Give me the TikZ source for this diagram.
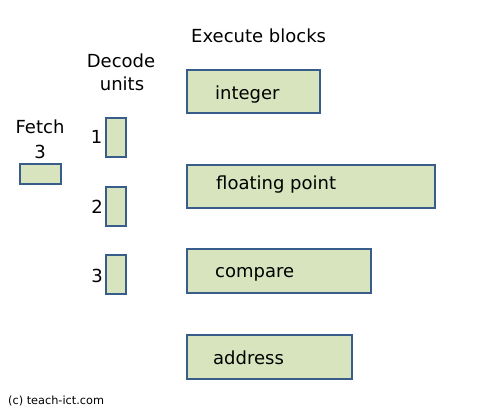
\documentclass[tikz,border=0pt]{standalone}
\usepackage{fontspec}
\setmainfont{DejaVu Sans}
\definecolor{boxfill}{HTML}{D7E4BD}
\definecolor{boxline}{HTML}{385D8A}
\begin{document}
\begin{tikzpicture}[x=1pt,y=-1pt,
  unit/.style={draw=boxline,fill=boxfill,line width=1.8pt},
  lbl/.style={inner sep=0pt,font=\fontsize{18}{24}\selectfont},
  small/.style={inner sep=0pt,font=\fontsize{11.3}{13}\selectfont}]
\useasboundingbox[fill=white] (0,0) rectangle (487,415);
% fetch
\draw[unit] (20,164) rectangle (61,184);
\node[lbl,anchor=base] (fetchlbl) at (40,133) {Fetch};
\node[lbl,anchor=base] (fetchnum) at (40,158) {3};
% decode
\node[lbl,anchor=base] (declbl) at (121,67) {Decode};
\node[lbl,anchor=base] (unitslbl) at (122,90) {units};
\draw[unit] (106,118) rectangle (126,157);
\draw[unit] (106,187) rectangle (126,226);
\draw[unit] (106,255) rectangle (126,294);
\node[lbl,anchor=base east] (d1) at (102.5,143) {1};
\node[lbl,anchor=base east] (d2) at (103,213) {2};
\node[lbl,anchor=base east] (d3) at (103,282) {3};
% execute
\node[lbl,anchor=base west] (exlbl) at (191,42) {Execute blocks};
\draw[unit] (187,70) rectangle (320,113);
\node[lbl,anchor=base west] (int) at (215,99) {integer};
\draw[unit] (187,165) rectangle (435,208);
\node[lbl,anchor=base west] (fp) at (216,189) {floating point};
\draw[unit] (187,249) rectangle (371,293);
\node[lbl,anchor=base west] (cmp) at (215,277) {compare};
\draw[unit] (187,335) rectangle (352,379);
\node[lbl,anchor=base west] (addr) at (213,364) {address};
% footer
\node[small,anchor=base west] (copy) at (8,404) {(c) teach-ict.com};
\end{tikzpicture}
\end{document}
